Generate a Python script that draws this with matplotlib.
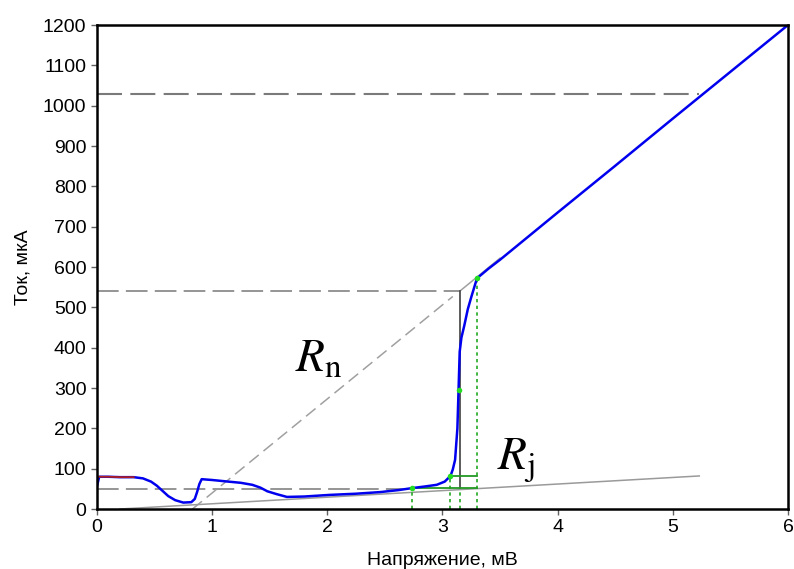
import matplotlib.pyplot as plt

plt.rcParams['font.family'] = ['Liberation Sans', 'DejaVu Sans']
plt.rcParams['mathtext.fontset'] = 'stix'

# measured I-V curve (mV, uA)
volt = [0.0, 0.02, 0.1, 0.2, 0.32, 0.4, 0.47, 0.52, 0.57, 0.62, 0.68, 0.75, 0.82,
        0.85, 0.87, 0.89, 0.91, 1.0, 1.14, 1.25, 1.35, 1.42, 1.48, 1.56, 1.65,
        1.8, 2.02, 2.25, 2.46, 2.62, 2.74, 2.85, 2.95, 3.02, 3.07, 3.09, 3.11,
        3.13, 3.14, 3.15, 3.165, 3.19, 3.22, 3.25, 3.30, 3.4, 3.5, 4.0, 4.5,
        5.0, 5.5, 6.0]
curr = [55, 80, 80, 79, 79, 76, 68, 58, 45, 32, 22, 16, 17,
        25, 42, 62, 74, 72, 68, 65, 60, 53, 44, 37, 30,
        31, 35, 38, 42, 47, 52, 56, 60, 68, 82, 98, 122,
        200, 295, 390, 425, 455, 495, 525, 572, 596, 618, 735, 851,
        968, 1084, 1200]

# low-bias segment highlighted in red
red_v = [0.0, 0.1, 0.2, 0.32]
red_i = [80, 80, 79, 79]

# construction lines
i_norm_top = 1030
i_gap = 540
i_low = 50
v_gap = 3.15
rn_v = [0.83, 3.09]
rn_i = [0, 527]
rn_ext_v = [3.15, 3.5]
rn_ext_i = [540, 622]
rj_v = [0.2, 5.23]
rj_i = [0, 82]

# marked points and their guides
pts_v = [2.74, 3.07, 3.14, 3.30]
pts_i = [52, 82, 295, 572]
dot_v = [2.74, 3.07, 3.15, 3.30]
dot_top = [52, 82, 52, 572]

fig = plt.figure(figsize=(7.94, 5.69), dpi=100)
ax = fig.add_axes([0.122, 0.1054, 0.8704, 0.8506])

gray = '#8c8c8c'
ax.plot([0, 5.23], [i_norm_top] * 2, color='#7a7a7a', lw=1.5, dashes=(12, 4))
ax.plot([0, v_gap], [i_gap] * 2, color=gray, lw=1.3, dashes=(12, 4))
ax.plot([0, 2.75], [i_low] * 2, color=gray, lw=1.3, dashes=(12, 4))
ax.plot(rn_v, rn_i, color='#a0a0a0', lw=1.1, dashes=(8, 4))
ax.plot(rn_ext_v, rn_ext_i, color='#a0a0a0', lw=1.1)
ax.plot(rj_v, rj_i, color='#9a9a9a', lw=1.1)
ax.plot([v_gap, v_gap], [52, i_gap], color='#404040', lw=1.2)

for v, top in zip(dot_v, dot_top):
    ax.plot([v, v], [0, top], color='#22aa22', lw=1.2, ls=(0, (2, 2)))
ax.plot([2.74, 3.30], [52, 52], color='#229922', lw=1.3)
ax.plot([3.07, 3.30], [82, 82], color='#229922', lw=1.3)

ax.plot(volt, curr, color='#0000ee', lw=1.8)
ax.plot(red_v, red_i, color='#b02020', lw=1.3)
ax.plot(pts_v, pts_i, 'o', color='#22dd22', ms=4, mec='none')

ax.text(1.72, 340, r'$R_\mathrm{n}$', fontsize=34, color='black')
ax.text(3.47, 97, r'$R_\mathrm{j}$', fontsize=34, color='black')

ax.set_xlim(0, 6)
ax.set_ylim(0, 1200)
ax.set_xticks(range(0, 7))
ax.set_yticks(range(0, 1201, 100))
ax.tick_params(direction='out', length=4, width=1, color='#606060', labelsize=14)
for s in ax.spines.values():
    s.set_linewidth(1.8)
ax.set_xlabel('Напряжение, мВ', fontsize=14, labelpad=11)
ax.set_ylabel('Ток, мкА', fontsize=14, labelpad=8)

fig.savefig('out.png', dpi=100)
